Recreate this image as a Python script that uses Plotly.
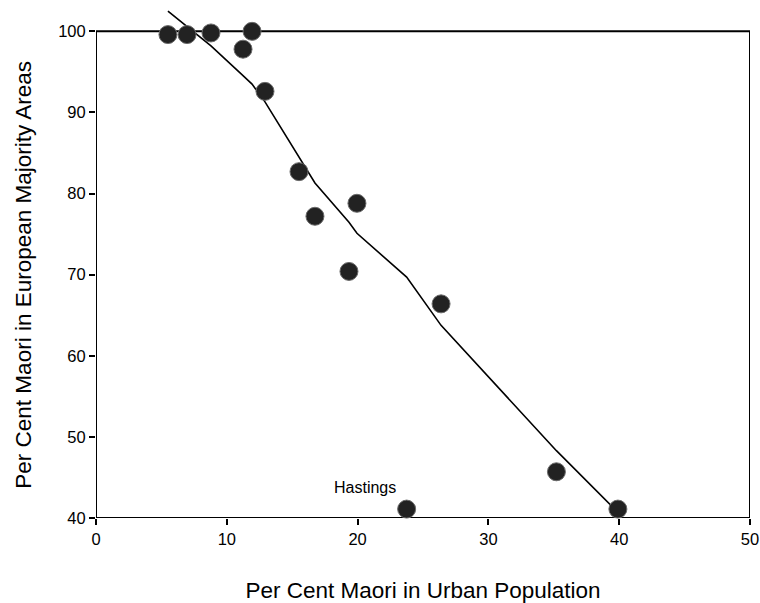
import plotly.graph_objects as go

# Observed points (Per Cent Maori in Urban Population vs Per Cent Maori in European Majority Areas)
x_urban = [5.5, 6.96, 8.79, 11.93, 11.24, 12.92, 15.52, 16.74, 19.95, 19.34, 26.38, 35.2, 23.75, 39.9]
y_european = [99.6, 99.6, 99.8, 100.0, 97.8, 92.6, 82.7, 77.2, 78.8, 70.4, 66.4, 45.7, 41.1, 41.1]

# Smoothed fit line, evaluated at the sorted x values
fit_x = [5.5, 6.96, 8.79, 11.24, 11.93, 12.92, 15.52, 16.74, 19.34, 19.95, 23.75, 26.38, 35.2, 39.9]
fit_y = [102.5, 100.6, 98.2, 94.55, 93.5, 91.3, 84.5, 81.3, 76.45, 75.1, 69.7, 63.75, 48.3, 40.7]

label_text = "Hastings"
label_x = 20.6
label_y = 43.8

x_ticks = [0, 10, 20, 30, 40, 50]
y_ticks = [40, 50, 60, 70, 80, 90, 100]

x_title = "Per Cent Maori in Urban Population"
y_title = "Per Cent Maori in European Majority Areas"

FONT = "Liberation Sans, Arial, sans-serif"

fig = go.Figure()
fig.add_trace(go.Scatter(
    x=fit_x, y=fit_y, mode="lines",
    line=dict(color="black", width=1.6),
    showlegend=False, hoverinfo="skip",
))
fig.add_trace(go.Scatter(
    x=x_urban, y=y_european, mode="markers",
    marker=dict(size=18, color="#222222", line=dict(color="#6a6a6a", width=1)),
    cliponaxis=False, showlegend=False,
))

# plot frame (box from axis minimum to maximum)
fig.add_shape(type="rect", xref="x", yref="y", x0=0, x1=50, y0=40, y1=100,
              line=dict(color="black", width=2), layer="below")

fig.add_annotation(x=label_x, y=label_y, text=label_text, showarrow=False,
                   font=dict(family=FONT, size=16, color="black"))

# y-axis title centred on the framed region (40-100)
fig.add_annotation(xref="paper", x=0, xshift=-72, xanchor="center",
                   yref="y", y=70, yanchor="middle", textangle=-90,
                   text=y_title, showarrow=False,
                   font=dict(family=FONT, size=22.5, color="black"))

fig.update_layout(
    width=760, height=603,
    margin=dict(l=96, r=10, t=7, b=85),
    paper_bgcolor="white", plot_bgcolor="white",
    font=dict(family=FONT, color="black"),
)
fig.update_xaxes(
    range=[0, 50], tickvals=x_ticks, ticks="outside", ticklen=6, tickwidth=1.5,
    tickcolor="black", showgrid=False, zeroline=False, showline=False,
    tickfont=dict(size=16.5), automargin=False,
    title=dict(text=x_title, font=dict(size=22.5), standoff=38),
)
fig.update_yaxes(
    range=[40, 103], tickvals=y_ticks, ticks="outside", ticklen=6, tickwidth=1.5,
    tickcolor="black", showgrid=False, zeroline=False, showline=False,
    tickfont=dict(size=16.5), automargin=False,
)

fig.write_html("out.html")
